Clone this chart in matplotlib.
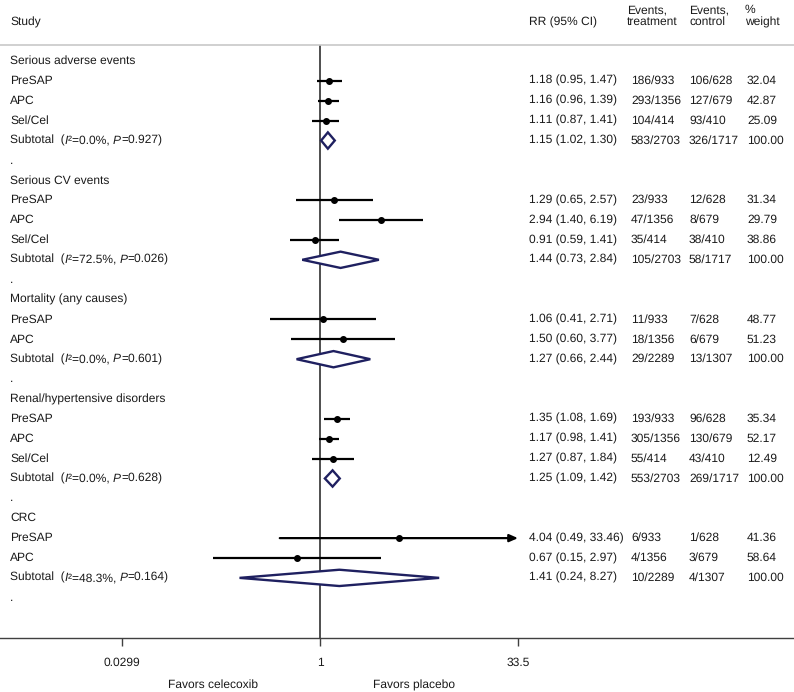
"""
Forest plot: celecoxib vs placebo, risk ratios by outcome group.
Saves out.png (794x692).
"""

import numpy as np
import matplotlib.pyplot as plt
from matplotlib.transforms import blended_transform_factory

plt.rcParams["font.family"] = ["Liberation Sans", "DejaVu Sans"]
plt.rcParams["text.hinting"] = "no_hinting"
plt.rcParams["text.hinting_factor"] = 1

# ── data ─────────────────────────────────────────────────────────────────────
groups = ["Serious adverse events", "Serious CV events", "Mortality (any causes)",
          "Renal/hypertensive disorders", "CRC"]

study_names = [["PreSAP", "APC", "Sel/Cel"],
               ["PreSAP", "APC", "Sel/Cel"],
               ["PreSAP", "APC"],
               ["PreSAP", "APC", "Sel/Cel"],
               ["PreSAP", "APC"]]

rr = [[1.18, 1.16, 1.11], [1.29, 2.94, 0.91], [1.06, 1.50],
      [1.35, 1.17, 1.27], [4.04, 0.67]]
ci_lo = [[0.95, 0.96, 0.87], [0.65, 1.40, 0.59], [0.41, 0.60],
         [1.08, 0.98, 0.87], [0.49, 0.15]]
ci_hi = [[1.47, 1.39, 1.41], [2.57, 6.19, 1.41], [2.71, 3.77],
         [1.69, 1.41, 1.84], [33.46, 2.97]]
ev_trt = [["186/933", "293/1356", "104/414"], ["23/933", "47/1356", "35/414"],
          ["11/933", "18/1356"], ["193/933", "305/1356", "55/414"],
          ["6/933", "4/1356"]]
ev_ctl = [["106/628", "127/679", "93/410"], ["12/628", "8/679", "38/410"],
          ["7/628", "6/679"], ["96/628", "130/679", "43/410"],
          ["1/628", "3/679"]]
weight = [["32.04", "42.87", "25.09"], ["31.34", "29.79", "38.86"],
          ["48.77", "51.23"], ["35.34", "52.17", "12.49"],
          ["41.36", "58.64"]]

sub_rr = [1.15, 1.44, 1.27, 1.25, 1.41]
sub_lo = [1.02, 0.73, 0.66, 1.09, 0.24]
sub_hi = [1.30, 2.84, 2.44, 1.42, 8.27]
sub_i2 = ["0.0", "72.5", "0.0", "0.0", "48.3"]
sub_p = ["0.927", "0.026", "0.601", "0.628", "0.164"]
sub_ev_trt = ["583/2703", "105/2703", "29/2289", "553/2703", "10/2289"]
sub_ev_ctl = ["326/1717", "58/1717", "13/1307", "269/1717", "4/1307"]

x_ticks = [0.0299, 1, 33.5]
x_ticklabels = ["0.0299", "1", "33.5"]

# ── layout ───────────────────────────────────────────────────────────────────
W, H = 794, 692
ROW = 19.88           # px per row
PX_PER_LN = 56.4      # px per unit of ln(RR)
X_NULL = 320          # px of RR = 1
TOP, BOT = 45, 638    # px of header rule and axis line

NAVY = "#1f2060"
GREY = "#404040"
TXT = "#1a1a1a"
FS = 8.5

fig = plt.figure(figsize=(W / 100, H / 100), dpi=100)
ax = fig.add_axes([0, 1 - BOT / H, 1, (BOT - TOP) / H])
ax.set_xscale("log")
ax.set_xlim(np.exp(-X_NULL / PX_PER_LN), np.exp((W - X_NULL) / PX_PER_LN))
# row 0 sits at pixel 61
ax.set_ylim((BOT - 61) / ROW, (TOP - 61) / ROW)

for s in ["left", "right"]:
    ax.spines[s].set_visible(False)
ax.spines["top"].set_color("#c8c8c8")
ax.spines["top"].set_linewidth(1.2)
ax.spines["bottom"].set_color(GREY)
ax.spines["bottom"].set_linewidth(1.0)
ax.set_yticks([])
ax.set_xticks(x_ticks)
ax.set_xticklabels(x_ticklabels, fontsize=FS)
ax.minorticks_off()
ax.tick_params(axis="x", direction="out", length=6, width=1.0, color=GREY,
               pad=8, labelcolor=TXT)

ax.axvline(1, color=GREY, lw=1.3, zorder=1)

tr = blended_transform_factory(ax.transAxes, ax.transData)


def put(px, row, s, **kw):
    ax.text(px / W, row, s, transform=tr, fontsize=FS, va="center",
            ha="left", color=TXT, clip_on=False, **kw)


def put_subtotal(row, i2, p):
    # "Subtotal  (I²=.., P=..)" with italic I and P, pieced together
    parts = [("Subtotal  (", "normal"), ("I", "italic"), ("²=" + i2 + "%, ", "normal"),
             ("P", "italic"), ("=" + p + ")", "normal")]
    t = None
    for s, style in parts:
        if t is None:
            t = ax.text(10 / W, row, s, transform=tr, fontsize=FS, va="center",
                        ha="left", color=TXT, style=style)
        else:
            t = ax.annotate(s, xycoords=t, xy=(1, 0), va="bottom", ha="left",
                            fontsize=FS, color=TXT, style=style)


# headers
put(10, (22 - 61) / ROW, "Study")
put(529, (22 - 61) / ROW, "RR (95% CI)")
put(627, (10 - 61) / ROW, "Events,")
put(627, (22 - 61) / ROW, "treatment")
put(689, (10 - 61) / ROW, "Events,")
put(689, (22 - 61) / ROW, "control")
put(745, (10 - 61) / ROW, "%")
put(745, (22 - 61) / ROW, "weight")

row = 0
for g, name in enumerate(groups):
    put(10, row, name)
    row += 1
    for i, st in enumerate(study_names[g]):
        put(10, row, st)
        hi = ci_hi[g][i]
        if hi > 30:
            ax.annotate("", xy=(hi, row), xytext=(ci_lo[g][i], row),
                        arrowprops=dict(arrowstyle="-|>,head_length=0.5,head_width=0.22",
                                        color="black", lw=1.6, shrinkA=0, shrinkB=0))
        else:
            ax.plot([ci_lo[g][i], hi], [row, row], color="black", lw=1.6,
                    solid_capstyle="butt", zorder=3)
        ax.plot(rr[g][i], row, "o", color="black", ms=4, zorder=4)
        put(529, row, f"{rr[g][i]:.2f} ({ci_lo[g][i]:.2f}, {ci_hi[g][i]:.2f})")
        put(631, row, ev_trt[g][i])
        put(689, row, ev_ctl[g][i])
        put(747, row, weight[g][i])
        row += 1
    put_subtotal(row, sub_i2[g], sub_p[g])
    dx = [sub_lo[g], sub_rr[g], sub_hi[g], sub_rr[g], sub_lo[g]]
    dy = [row, row - 0.41, row, row + 0.41, row]
    ax.fill(dx, dy, facecolor="white", edgecolor=NAVY, lw=1.7, zorder=3)
    put(529, row, f"{sub_rr[g]:.2f} ({sub_lo[g]:.2f}, {sub_hi[g]:.2f})")
    put(631, row, sub_ev_trt[g])
    put(689, row, sub_ev_ctl[g])
    put(747, row, "100.00")
    row += 1
    put(10, row, ".")
    row += 1

fig.text(213 / W, 1 - 685 / H, "Favors celecoxib", ha="center", va="center",
         fontsize=FS, color=TXT)
fig.text(414 / W, 1 - 685 / H, "Favors placebo", ha="center", va="center",
         fontsize=FS, color=TXT)

fig.savefig("out.png", dpi=100)
